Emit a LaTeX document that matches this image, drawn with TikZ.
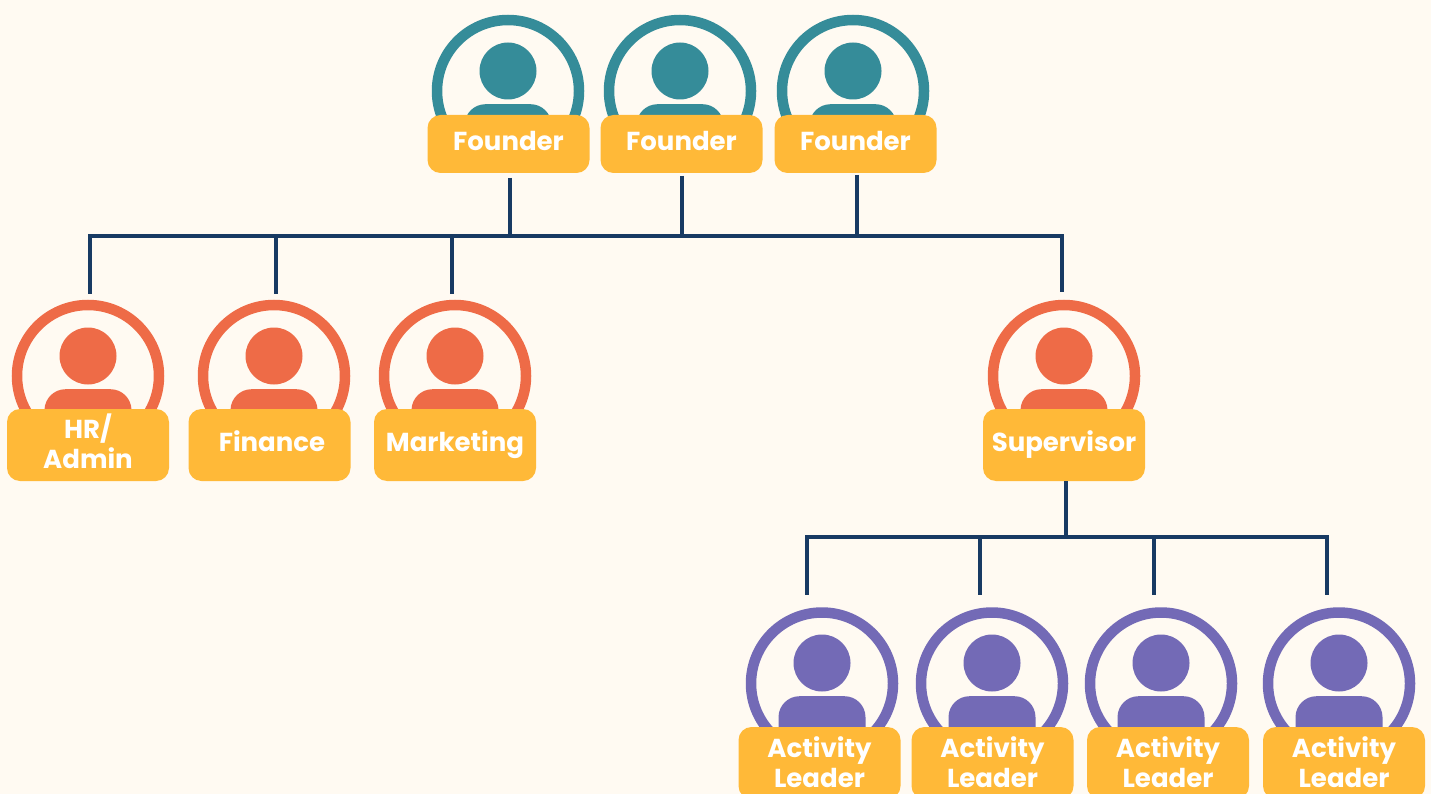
\documentclass[tikz,border=0pt]{standalone}
\usepackage{fontspec}
\setmainfont{Poppins}
\usetikzlibrary{positioning}
\definecolor{page_cream}{HTML}{FFFAF2}
\definecolor{team_teal}{HTML}{358C99}
\definecolor{team_coral}{HTML}{EE6B47}
\definecolor{team_violet}{HTML}{736AB6}
\definecolor{tag_amber}{HTML}{FFB938}
\definecolor{link_navy}{HTML}{183A63}
\newcommand\tagline[2][21.7pt]{\rule[-8.3pt]{0pt}{\dimexpr#1+8.3pt}#2}
\tikzset{
	ring/.style={circle,draw=#1,line width=10.5pt,minimum size=142pt,inner sep=0pt},
	head/.style={circle,fill=#1,minimum size=57pt,inner sep=0pt},
	torso/.style={rectangle,fill=#1,rounded corners=21pt,minimum width=87pt,minimum height=60pt,inner sep=0pt},
	tag/.style={rectangle,fill=tag_amber,rounded corners=13pt,minimum width=162pt,inner sep=0pt,
		text=white,align=center,font=\fontsize{26}{30}\selectfont\bfseries},
	link/.style={draw=link_navy,line width=4pt},
	bus/.style={link,line cap=rect},
}
\begin{document}
\begin{tikzpicture}[x=1pt,y=-1pt]
	\useasboundingbox (0,0) rectangle (1431,794);
	\clip (0,0) rectangle (1431,794);
	\fill[page_cream] (0,0) rectangle (1431,794);
	% founders
	\foreach\i/\cx/\tx in {1/508/508.5,2/680/681.5,3/853/855.5}
	{
		\node[ring=team_teal] (ringf\i) at (\cx,91) {};
		\node[head=team_teal] (headf\i) at (\cx,71) {};
		\node[torso=team_teal,below=33pt of headf\i.center,anchor=north] (torsof\i) {};
		\node[tag,minimum height=58pt] (tagf\i) at (\tx,144) {\tagline{Founder}};
	}
	% departments
	\foreach\i/\cx/\tx/\lab in {1/88/88/{\tagline[24pt]{HR/}\\\tagline{Admin}},2/274/269.5/{\hspace*{5pt}\tagline{Finance}},3/455/455/\tagline{Marketing},4/1064/1064/\tagline{Supervisor}}
	{
		\node[ring=team_coral] (ringd\i) at (\cx,376) {};
		\node[head=team_coral] (headd\i) at (\cx,356) {};
		\node[torso=team_coral,below=33pt of headd\i.center,anchor=north] (torsod\i) {};
		\node[tag,minimum height=72pt] (tagd\i) at (\tx,445) {\lab};
	}
	% activity leaders
	\foreach\i/\cx/\tx in {1/822/819.5,2/992/992.5,3/1161/1168,4/1339/1344}
	{
		\node[ring=team_violet] (ringa\i) at (\cx,683.5) {};
		\node[head=team_violet] (heada\i) at (\cx,663) {};
		\node[torso=team_violet,below=33pt of heada\i.center,anchor=north] (torsoa\i) {};
		\node[tag,minimum height=72pt] (taga\i) at (\tx,763) {\tagline[27.7pt]{Activity}\\\tagline{Leader}};
	}
	% upper bus
	\coordinate (busl) at (90,236);
	\coordinate (busr) at (1062,236);
	\draw[bus] (busl) -- (busr);
	\foreach\i/\bx/\by in {1/510/178,2/682/176,3/857/175}
	{
		\coordinate (upf\i) at (\bx,\by);
		\coordinate (lowf\i) at (\bx,236);
		\draw[link] (upf\i) -- (lowf\i);
	}
	\foreach\i/\bx/\by in {1/90/294,2/276/294,3/452/294,4/1062/292}
	{
		\coordinate (upd\i) at (\bx,236);
		\coordinate (lowd\i) at (\bx,\by);
		\draw[link] (upd\i) -- (lowd\i);
	}
	% lower bus
	\coordinate (subl) at (807,537);
	\coordinate (subr) at (1327,537);
	\coordinate (subm) at (1066,537);
	\draw[bus] (subl) -- (subr);
	\draw[link] (tagd4.south -| subm) -- (subm);
	\foreach\i/\bx in {1/807,2/980,3/1154,4/1327}
	{
		\coordinate (upa\i) at (\bx,537);
		\coordinate (lowa\i) at (\bx,595);
		\draw[link] (upa\i) -- (lowa\i);
	}
\end{tikzpicture}
\end{document}
